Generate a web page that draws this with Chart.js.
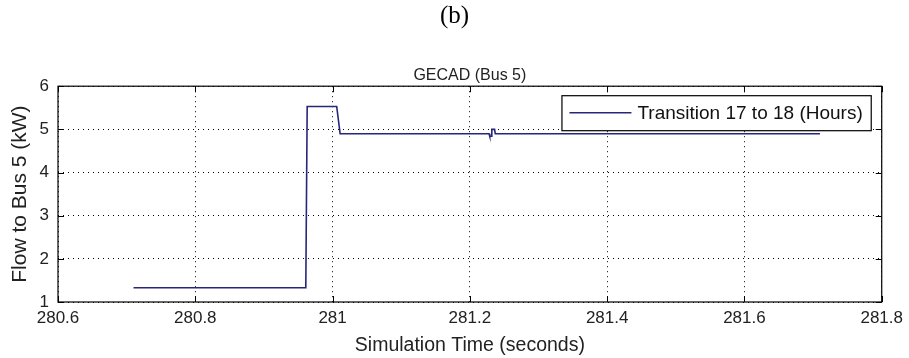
<!DOCTYPE html>
<html><head><meta charset="utf-8">
<script src="https://cdn.jsdelivr.net/npm/chart.js@4/dist/chart.umd.min.js"></script>
<style>html,body{margin:0;padding:0;background:#fff}#wrap{width:909px;height:358px}</style>
</head><body><div id="wrap"><canvas id="c" width="909" height="358"></canvas></div>
<script>
const panelLabel = '(b)';
const chartTitle = 'GECAD (Bus 5)';
const seriesLabel = 'Transition 17 to 18 (Hours)';
const xTitle = 'Simulation Time (seconds)';
const yTitle = 'Flow to Bus 5 (kW)';
const xTicks = [280.6, 280.8, 281, 281.2, 281.4, 281.6, 281.8];
const yTicks = [1, 2, 3, 4, 5, 6];
const timeS  = [280.71, 280.961, 280.963, 281.006, 281.011, 281.228, 281.229, 281.231, 281.232, 281.236, 281.237, 281.71];
const flowKW = [1.33,   1.33,    5.53,    5.53,    4.9,     4.9,     4.84,    4.84,    5.0,     5.0,     4.9,     4.9];

const SANS = '"Liberation Sans", Arial, sans-serif';
const lineColor = '#26267a';

const framePlugin = {
  id: 'frame',
  afterDraw(chart) {
    const {ctx, chartArea: a, scales} = chart;
    ctx.save();
    ctx.strokeStyle = '#000';
    ctx.lineWidth = 1.2;
    ctx.strokeRect(a.left, a.top, a.right - a.left, a.bottom - a.top);
    const tl = 6;
    ctx.beginPath();
    xTicks.forEach(v => {
      const x = Math.round(scales.x.getPixelForValue(v)) + 0.5;
      ctx.moveTo(x, a.bottom); ctx.lineTo(x, a.bottom - tl);
      ctx.moveTo(x, a.top); ctx.lineTo(x, a.top + tl);
    });
    yTicks.forEach(v => {
      const y = Math.round(scales.y.getPixelForValue(v)) + 0.5;
      ctx.moveTo(a.left, y); ctx.lineTo(a.left + tl, y);
      ctx.moveTo(a.right, y); ctx.lineTo(a.right - tl, y);
    });
    ctx.lineWidth = 1;
    ctx.stroke();
    // legend
    ctx.font = '19px ' + SANS;
    const tw = ctx.measureText(seriesLabel).width;
    const right = a.right - 11, top = a.top + 9, h = 35;
    const lineLen = 62, pad = 8, gap = 6;
    const w = pad + lineLen + gap + tw + pad;
    const left = right - w;
    ctx.fillStyle = '#fff';
    ctx.fillRect(left, top, w, h);
    ctx.lineWidth = 1.2;
    ctx.strokeStyle = '#000';
    ctx.strokeRect(left + 0.5, top + 0.5, w, h);
    ctx.strokeStyle = lineColor;
    ctx.lineWidth = 1.5;
    ctx.beginPath();
    ctx.moveTo(left + pad, top + h / 2);
    ctx.lineTo(left + pad + lineLen, top + h / 2);
    ctx.stroke();
    ctx.fillStyle = '#111';
    ctx.textBaseline = 'middle';
    ctx.fillText(seriesLabel, left + pad + lineLen + gap, top + h / 2 + 1);
    ctx.restore();
  }
};

new Chart(document.getElementById('c'), {
  type: 'line',
  data: {
    datasets: [{
      label: seriesLabel,
      data: timeS.map((t, i) => ({x: t, y: flowKW[i]})),
      borderColor: lineColor,
      borderWidth: 1.6,
      pointRadius: 0,
      tension: 0,
      fill: false,
      yAxisID: 'y'
    }]
  },
  options: {
    responsive: false,
    devicePixelRatio: 1,
    animation: false,
    layout: {padding: 0},
    plugins: {
      legend: {display: false},
      tooltip: {enabled: false},
      title: {
        display: true, text: panelLabel, color: '#000',
        font: {family: '"Liberation Serif", "Times New Roman", serif', size: 25, weight: 'normal'},
        padding: {top: 1, bottom: 35}
      },
      subtitle: {
        display: true, text: chartTitle, color: '#222', fullSize: false,
        font: {family: SANS, size: 16, weight: 'normal'},
        padding: {top: 0, bottom: 1}
      }
    },
    scales: {
      x: {
        type: 'linear', min: 280.6, max: 281.8,
        afterBuildTicks: s => { s.ticks = xTicks.map(v => ({value: v})); },
        afterFit: s => { s.height = 56; },
        ticks: {color: '#222', font: {family: SANS, size: 17}, padding: 6, maxRotation: 0,
                callback: v => String(v)},
        grid: {color: '#000', lineWidth: 1, drawTicks: false},
        border: {display: false, dash: [1, 4]},
        title: {display: true, text: xTitle, color: '#222',
                font: {family: SANS, size: 19.5}, padding: {top: 0, bottom: 1}}
      },
      y: {
        type: 'linear', min: 1, max: 6, position: 'left',
        afterBuildTicks: s => { s.ticks = yTicks.map(v => ({value: v})); },
        afterFit: s => { s.width = 58; },
        ticks: {color: '#222', font: {family: SANS, size: 17}, padding: 9,
                callback: v => String(v)},
        grid: {color: '#000', lineWidth: 1, drawTicks: false},
        border: {display: false, dash: [1, 4]},
        title: {display: true, text: yTitle, color: '#222',
                font: {family: SANS, size: 21}, padding: {top: 8, bottom: 0}}
      },
      yRight: {
        type: 'linear', min: 1, max: 6, position: 'right',
        afterFit: s => { s.width = 23; },
        ticks: {display: false},
        grid: {display: false, drawOnChartArea: false, drawTicks: false},
        border: {display: false}
      }
    }
  },
  plugins: [framePlugin]
});
</script>
</body></html>
